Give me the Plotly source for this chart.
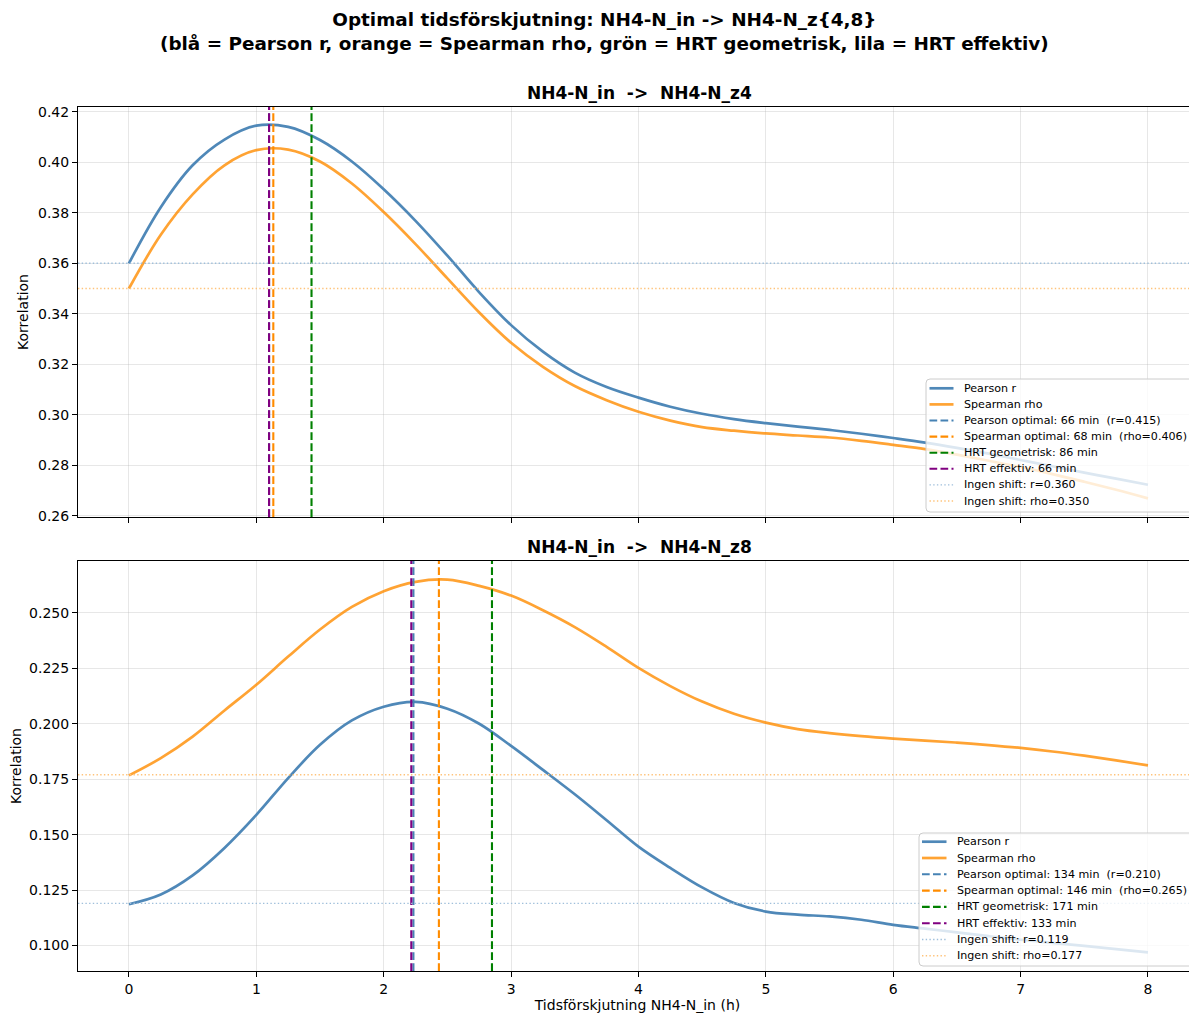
import plotly.graph_objects as go

# ---------------- data ----------------
lag_h = [0.00, 0.25, 0.50, 0.75, 1.00, 1.25, 1.50, 1.75, 2.00, 2.25, 2.50, 2.75, 3.00,
         3.25, 3.50, 3.75, 4.00, 4.25, 4.50, 4.75, 5.00, 5.25, 5.50, 5.75, 6.00,
         6.25, 6.50, 6.75, 7.00, 7.25, 7.50, 7.75, 8.00]

pearson_z4 = [0.3600, 0.3822, 0.3988, 0.4090, 0.4145, 0.4140, 0.4088, 0.4003, 0.3893, 0.3768,
              0.3630, 0.3485, 0.3355, 0.3250, 0.3167, 0.3110, 0.3068, 0.3032, 0.3004, 0.2983,
              0.2967, 0.2953, 0.2940, 0.2925, 0.2908, 0.2890, 0.2869, 0.2846, 0.2821, 0.2796,
              0.2771, 0.2747, 0.2723]
spearman_z4 = [0.3500, 0.3713, 0.3873, 0.3988, 0.4048, 0.4050, 0.4003, 0.3916, 0.3803, 0.3676,
               0.3540, 0.3405, 0.3285, 0.3190, 0.3114, 0.3058, 0.3012, 0.2977, 0.2951, 0.2937,
               0.2926, 0.2918, 0.2910, 0.2897, 0.2881, 0.2864, 0.2842, 0.2818, 0.2793, 0.2765,
               0.2735, 0.2703, 0.2669]

pearson_z8 = [0.1186, 0.1230, 0.1316, 0.1440, 0.1589, 0.1755, 0.1905, 0.2015, 0.2077, 0.2099,
              0.2068, 0.2000, 0.1900, 0.1792, 0.1682, 0.1565, 0.1446, 0.1350, 0.1262, 0.1192,
              0.1153, 0.1139, 0.1131, 0.1116, 0.1093, 0.1076, 0.1059, 0.1042, 0.1026, 0.1012,
              0.0998, 0.0984, 0.0969]
spearman_z8 = [0.1767, 0.1845, 0.1942, 0.2060, 0.2176, 0.2303, 0.2425, 0.2527, 0.2598, 0.2640,
               0.2650, 0.2622, 0.2578, 0.2512, 0.2436, 0.2347, 0.2252, 0.2170, 0.2100, 0.2045,
               0.2005, 0.1976, 0.1958, 0.1944, 0.1933, 0.1924, 0.1915, 0.1904, 0.1891, 0.1875,
               0.1856, 0.1835, 0.1812]

targets = ["NH4-N_z4", "NH4-N_z8"]
opt_pearson_min = [66, 134]
opt_pearson_r = [0.415, 0.210]
opt_spearman_min = [68, 146]
opt_spearman_rho = [0.406, 0.265]
hrt_geo_min = [86, 171]
hrt_eff_min = [66, 133]
noshift_r = [0.360, 0.119]
noshift_rho = [0.350, 0.177]

x_ticks = [0, 1, 2, 3, 4, 5, 6, 7, 8]

# ---------------- style / layout ----------------
FONT = "DejaVu Sans"
C_P_LINE = "rgba(70,130,180,0.95)"
C_S_LINE = "rgba(255,140,0,0.8)"
C_P = "#4682B4"
C_S = "#FF8C00"
C_G = "#008000"
C_V = "#800080"
C_P_DOT = "#9fbfdb"
C_S_DOT = "#ffc37a"
DASH = "7.7px,3.3px"
DOT = "1.4px,2.3px"

OFF = 8                      # page offset of the plot div
W, H = 1197 - OFF, 1017 - OFF
PL, PR, PT, PB = 78, 1197, 107, 971   # plot area in page pixels
M_L, M_T = PL - OFF, PT - OFF
M_R, M_B = 0, H - (PB - OFF)
PW, PH = PR - PL, PB - PT
X_RANGE = [-0.4, 8.385]


def xp(X):
    return (X - PL) / PW


def yp(Y):
    return (PB - Y) / PH


fig = go.Figure()

series = [(pearson_z4, spearman_z4), (pearson_z8, spearman_z8)]
y_ranges = []
for i, (pr, sr) in enumerate(series):
    vals = pr + sr + [noshift_r[i], noshift_rho[i]]
    lo, hi = min(vals), max(vals)
    pad = (hi - lo) * 0.05
    y_ranges.append([lo - pad, hi + pad])

legend_entries = []
for i, (pr, sr) in enumerate(series):
    xa = "x" if i == 0 else "x2"
    ya = "y" if i == 0 else "y2"
    ylo, yhi = y_ranges[i]
    common = dict(xaxis=xa, yaxis=ya, hoverinfo="skip", showlegend=False)
    entries = []
    fig.add_trace(go.Scatter(x=lag_h, y=pr, mode="lines",
                             line=dict(color=C_P_LINE, width=2.7, shape="spline", smoothing=1.0), **common))
    entries.append(("Pearson r", C_P_LINE, 2.7, "solid"))
    fig.add_trace(go.Scatter(x=lag_h, y=sr, mode="lines",
                             line=dict(color=C_S_LINE, width=2.7, shape="spline", smoothing=1.0), **common))
    entries.append(("Spearman rho", C_S_LINE, 2.7, "solid"))
    vlines = [
        (opt_pearson_min[i], C_P, f"Pearson optimal: {opt_pearson_min[i]} min \u00a0(r={opt_pearson_r[i]:.3f})"),
        (opt_spearman_min[i], C_S, f"Spearman optimal: {opt_spearman_min[i]} min \u00a0(rho={opt_spearman_rho[i]:.3f})"),
        (hrt_geo_min[i], C_G, f"HRT geometrisk: {hrt_geo_min[i]} min"),
        (hrt_eff_min[i], C_V, f"HRT effektiv: {hrt_eff_min[i]} min"),
    ]
    for m, c, nm in vlines:
        xv = m / 60.0
        fig.add_trace(go.Scatter(x=[xv, xv], y=[ylo, yhi], mode="lines",
                                 line=dict(color=c, width=2.1, dash=DASH), **common))
        entries.append((nm, c, 2.1, DASH))
    fig.add_trace(go.Scatter(x=X_RANGE, y=[noshift_r[i]] * 2, mode="lines",
                             line=dict(color=C_P_DOT, width=1.4, dash=DOT), **common))
    entries.append((f"Ingen shift: r={noshift_r[i]:.3f}", C_P_DOT, 1.4, DOT))
    fig.add_trace(go.Scatter(x=X_RANGE, y=[noshift_rho[i]] * 2, mode="lines",
                             line=dict(color=C_S_DOT, width=1.4, dash=DOT), **common))
    entries.append((f"Ingen shift: rho={noshift_rho[i]:.3f}", C_S_DOT, 1.4, DOT))
    legend_entries.append(entries)

top_dom = [yp(517), 1.0]
bot_dom = [0.0, yp(561)]

axis_common = dict(
    showline=True, mirror=True, linecolor="black", linewidth=1.1,
    ticks="outside", ticklen=5, tickwidth=1.1, tickcolor="black",
    showgrid=True, gridcolor="rgba(176,176,176,0.3)", gridwidth=1,
    zeroline=False, tickfont=dict(family=FONT, size=14, color="black"),
    automargin=False,
)

fig.update_layout(
    width=W, height=H,
    margin=dict(l=M_L, r=M_R, t=M_T, b=M_B),
    paper_bgcolor="white", plot_bgcolor="white",
    font=dict(family=FONT, color="black"),
    showlegend=False,
    xaxis=dict(domain=[0, 1], anchor="y", range=X_RANGE, tickvals=x_ticks,
               showticklabels=False, matches="x2", **axis_common),
    yaxis=dict(domain=top_dom, anchor="x", range=y_ranges[0], dtick=0.02, tick0=0,
               tickformat=".2f",
               title=dict(text="Korrelation", font=dict(family=FONT, size=14), standoff=6),
               **axis_common),
    xaxis2=dict(domain=[0, 1], anchor="y2", range=X_RANGE, tickvals=x_ticks,
                title=dict(text="Tidsförskjutning NH4-N_in (h)", font=dict(family=FONT, size=14), standoff=4),
                **axis_common),
    yaxis2=dict(domain=bot_dom, anchor="x2", range=y_ranges[1], dtick=0.025, tick0=0,
                tickformat=".3f",
                title=dict(text="Korrelation", font=dict(family=FONT, size=14), standoff=6),
                **axis_common),
)


def rounded_box(x0, y0, x1, y1, r=4):
    # pixel coords (page), returns path in paper coords
    rx, ry = r / PW, r / PH
    a, b, c, d = xp(x0), xp(x1), yp(y1), yp(y0)  # left, right, bottom, top
    return (f"M {a + rx},{c} L {b - rx},{c} Q {b},{c} {b},{c + ry} "
            f"L {b},{d - ry} Q {b},{d} {b - rx},{d} "
            f"L {a + rx},{d} Q {a},{d} {a},{d - ry} "
            f"L {a},{c + ry} Q {a},{c} {a + rx},{c} Z")


# ---------------- manual legends (matplotlib-like) ----------------
shapes = []
annotations = []
legend_geom = [
    # box left, box top, box right, box bottom, first row y, row step, handle x0, handle x1, text x
    (926, 379, 1194, 512, 388.3, 16.1, 929.5, 953.5, 962),
    (919, 833, 1194, 966, 841.7, 16.3, 922.0, 946.5, 955),
]
for i, entries in enumerate(legend_entries):
    bx0, by0, bx1, by1, ry0, rstep, hx0, hx1, tx = legend_geom[i]
    shapes.append(dict(type="path", xref="paper", yref="paper",
                       path=rounded_box(bx0, by0, bx1, by1),
                       fillcolor="rgba(255,255,255,0.8)", line=dict(color="#cccccc", width=1),
                       layer="above"))
    for k, (nm, c, w, d) in enumerate(entries):
        yy = ry0 + k * rstep
        shapes.append(dict(type="line", xref="paper", yref="paper",
                           x0=xp(hx0), x1=xp(hx1), y0=yp(yy), y1=yp(yy),
                           line=dict(color=c, width=w, dash=d), layer="above"))
        annotations.append(dict(text=nm, x=xp(tx), y=yp(yy), xref="paper", yref="paper",
                                xanchor="left", yanchor="middle", showarrow=False,
                                font=dict(family=FONT, size=11.1, color="black")))

annotations.append(dict(
    text="<b>Optimal tidsförskjutning: NH4-N_in -> NH4-N_z{4,8}<br>"
         "(blå = Pearson r, orange = Spearman rho, grön = HRT geometrisk, lila = HRT effektiv)</b>",
    x=xp(604), y=yp(32), xref="paper", yref="paper", xanchor="center", yanchor="middle",
    showarrow=False, font=dict(family=FONT, size=18.4, color="black")))
sub_y = [yp(93), yp(547)]
for i, t in enumerate(targets):
    annotations.append(dict(text=f"<b>NH4-N_in \u00a0-> \u00a0{t}</b>", x=xp(639), y=sub_y[i],
                            xref="paper", yref="paper", xanchor="center", yanchor="middle",
                            showarrow=False, font=dict(family=FONT, size=17, color="black")))

fig.update_layout(shapes=shapes, annotations=annotations)

fig.write_html("out.html")
